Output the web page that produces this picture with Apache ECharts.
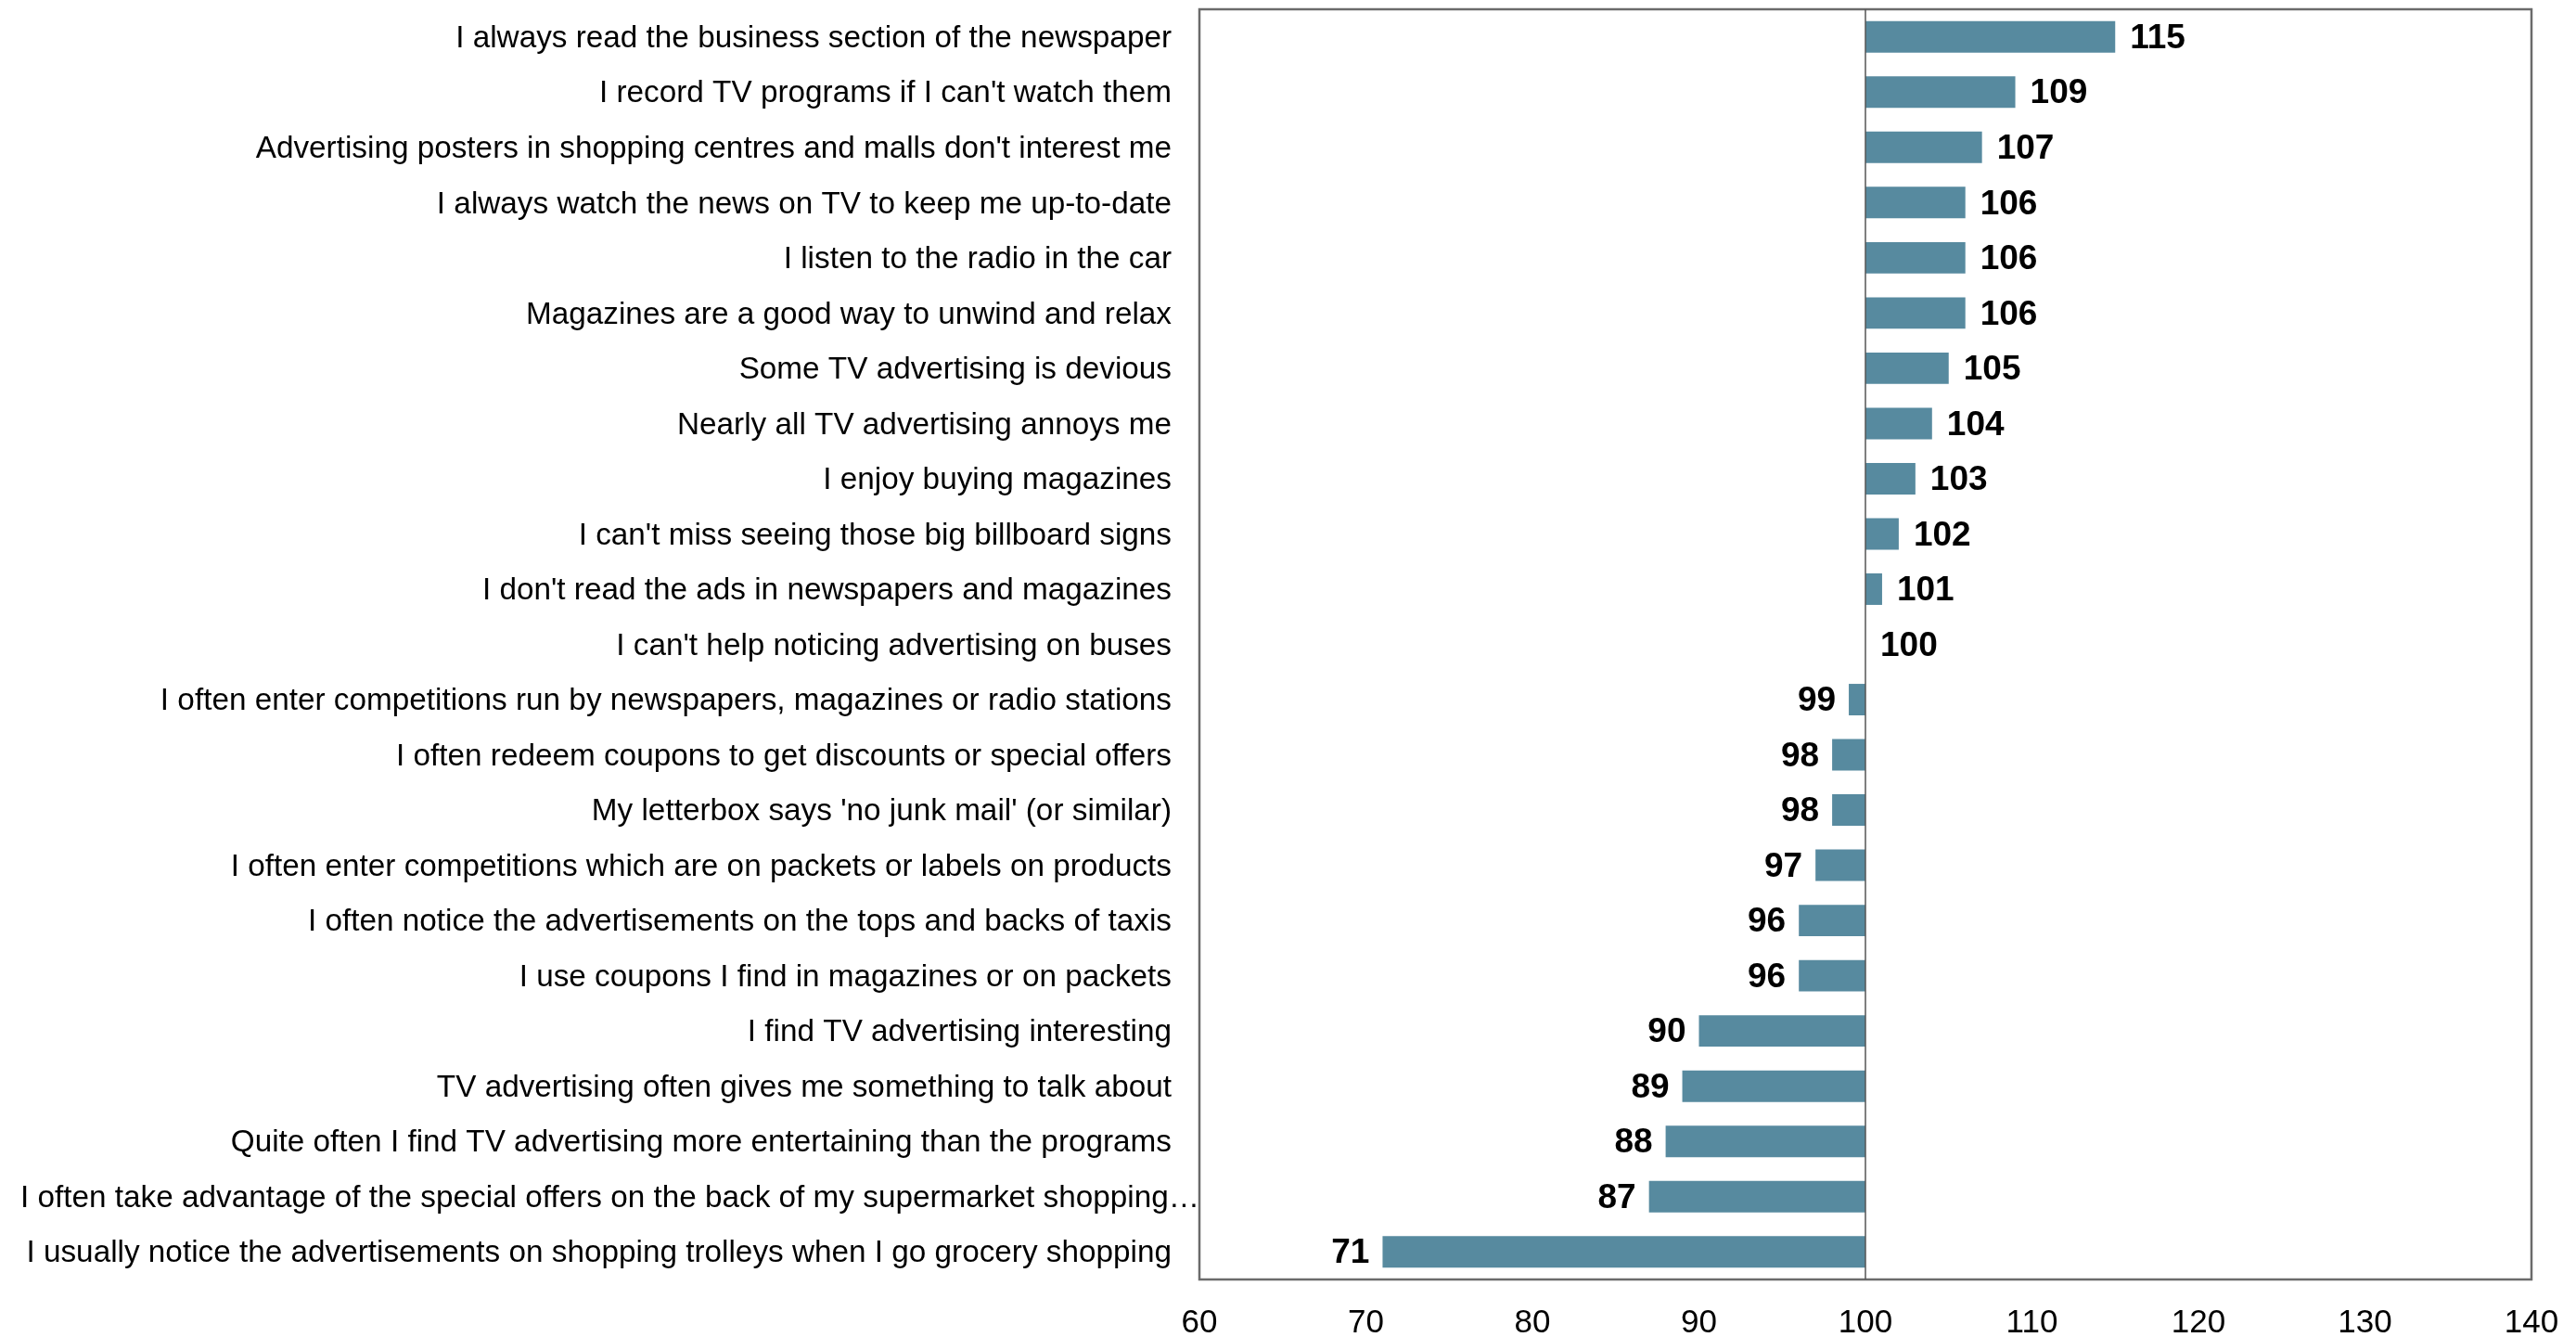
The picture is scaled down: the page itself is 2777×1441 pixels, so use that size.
<!DOCTYPE html>
<html>
<head>
<meta charset="utf-8">
<script src="https://cdn.jsdelivr.net/npm/echarts@6/dist/echarts.min.js"></script>
<style>
html,body{margin:0;padding:0;background:#fff;}
#c{width:2777px;height:1441px;}
</style>
</head>
<body>
<div id="c"></div>
<script>
var categories = [
  "I always read the business section of the newspaper",
  "I record TV programs if I can't watch them",
  "Advertising posters in shopping centres and malls don't interest me",
  "I always watch the news on TV to keep me up-to-date",
  "I listen to the radio in the car",
  "Magazines are a good way to unwind and relax",
  "Some TV advertising is devious",
  "Nearly all TV advertising annoys me",
  "I enjoy buying magazines",
  "I can't miss seeing those big billboard signs",
  "I don't read the ads in newspapers and magazines",
  "I can't help noticing advertising on buses",
  "I often enter competitions run by newspapers, magazines or radio stations",
  "I often redeem coupons to get discounts or special offers",
  "My letterbox says 'no junk mail' (or similar)",
  "I often enter competitions which are on packets or labels on products",
  "I often notice the advertisements on the tops and backs of taxis",
  "I use coupons I find in magazines or on packets",
  "I find TV advertising interesting",
  "TV advertising often gives me something to talk about",
  "Quite often I find TV advertising more entertaining than the programs",
  "I often take advantage of the special offers on the back of my supermarket shopping\u2026",
  "I usually notice the advertisements on shopping trolleys when I go grocery shopping"
];
var values = [115, 109, 107, 106, 106, 106, 105, 104, 103, 102, 101, 100, 99, 98, 98, 97, 96, 96, 90, 89, 88, 87, 71];
var baseline = 100;
var xTicks = [60, 70, 80, 90, 100, 110, 120, 130, 140];

var chart = echarts.init(document.getElementById('c'));
var BAR = '#578a9f';
var FONT = '"Liberation Sans", Arial, sans-serif';

chart.setOption({
  animation: false,
  grid: {left: 1293, right: 48, top: 10, bottom: 62, show: true, borderColor: '#6b6b6b', borderWidth: 2.5, containLabel: false, outerBoundsMode: 'none'},
  xAxis: {
    type: 'value', min: xTicks[0], max: xTicks[xTicks.length - 1], interval: 10,
    axisLine: {show: false}, axisTick: {show: false}, splitLine: {show: false},
    axisLabel: {fontFamily: FONT, fontSize: 35, color: '#000', margin: 30}
  },
  yAxis: {
    type: 'category', data: categories, inverse: true,
    axisLine: {show: false}, axisTick: {show: false}, splitLine: {show: false},
    axisLabel: {
      margin: 0, interval: 0,
      formatter: function (v) {
        return v.charAt(v.length - 1) === '\u2026' ? '{t|' + v + '}' : '{n|' + v + '}';
      },
      rich: {
        n: {fontFamily: FONT, fontSize: 33.3, color: '#000', padding: [4, 30, 0, 0]},
        t: {fontFamily: FONT, fontSize: 33.3, color: '#000', padding: [4, 0, 0, 0]}
      }
    }
  },
  series: [{
    type: 'custom',
    data: values.map(function (v, i) { return [v, i]; }),
    encode: {x: 0, y: 1},
    renderItem: function (params, api) {
      var v = api.value(0), idx = api.value(1);
      var p0 = api.coord([baseline, idx]);
      var p1 = api.coord([v, idx]);
      var h = api.size([0, 1])[1] * 0.57;
      var x0 = Math.min(p0[0], p1[0]), w = Math.abs(p1[0] - p0[0]);
      var right = v >= baseline;
      return {
        type: 'group',
        children: [
          {type: 'rect', shape: {x: x0, y: p0[1] - h / 2, width: w, height: h}, style: {fill: BAR}},
          {type: 'text', style: {
            text: String(v), x: right ? p1[0] + 16 : p1[0] - 14, y: p0[1] + 2,
            textAlign: right ? 'left' : 'right', textVerticalAlign: 'middle',
            font: 'bold 37px "Liberation Sans", Arial, sans-serif', fill: '#000'
          }}
        ]
      };
    },
    markLine: {
      silent: true, symbol: 'none', label: {show: false},
      lineStyle: {color: '#555', width: 1.5, type: 'solid'},
      data: [{xAxis: baseline}]
    }
  }]
});
</script>
</body>
</html>
